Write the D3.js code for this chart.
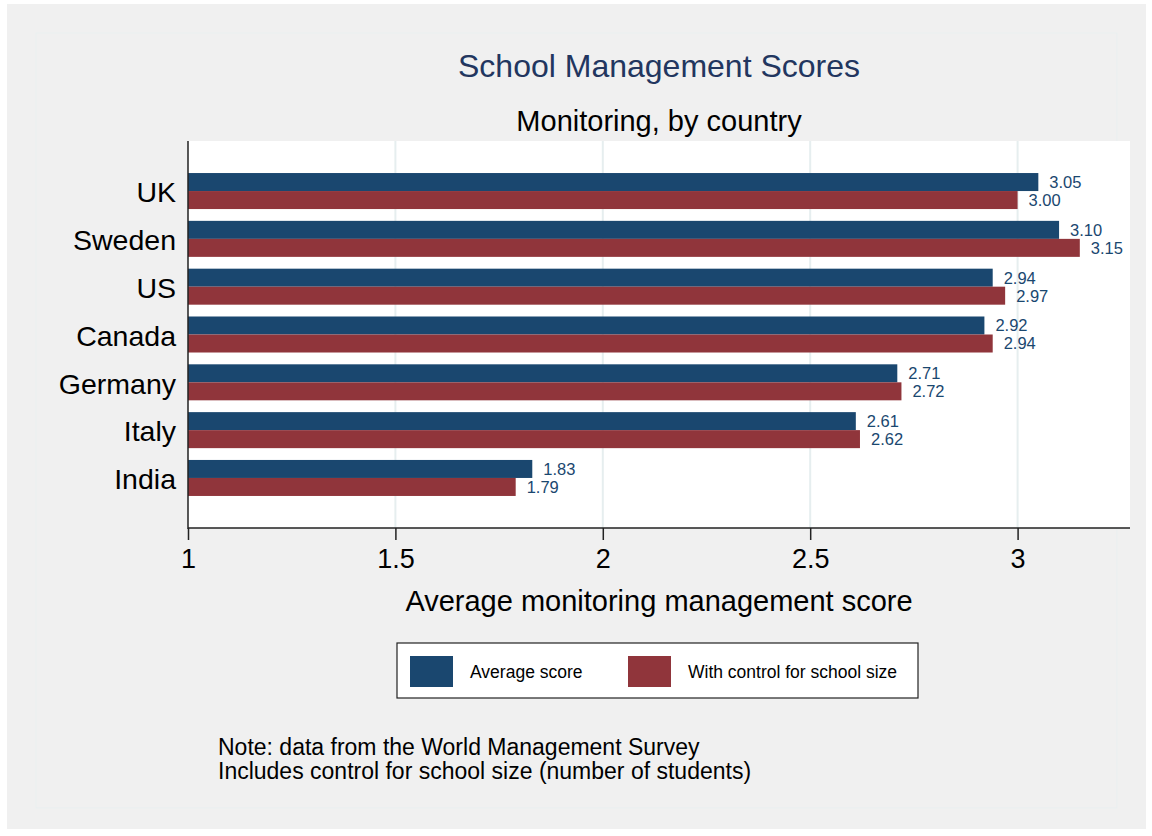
<!DOCTYPE html>
<html>
<head>
<meta charset="utf-8">
<script src="https://cdn.jsdelivr.net/npm/d3@7"></script>
<style>
  body { margin: 0; background: #fff; }
  svg { display: block; font-family: "Liberation Sans", Arial, Helvetica, sans-serif; }
</style>
</head>
<body>
<svg width="1152" height="836"></svg>
<script>
// Data
const countries = ["UK", "Sweden", "US", "Canada", "Germany", "Italy", "India"];
const averageScore = [3.05, 3.10, 2.94, 2.92, 2.71, 2.61, 1.83];
const controlScore = [3.00, 3.15, 2.97, 2.94, 2.72, 2.62, 1.79];
const seriesNames = ["Average score", "With control for school size"];
const xTicks = [1, 1.5, 2, 2.5, 3];

const navy = "#1a476f",
	maroon = "#90353b",
	titleCol = "#22365f",
	bg = "#f0f0f0",
	gridCol = "#e6eeef";

const svg = d3.select("svg");

// Graph region
svg.append("rect").attr("x", 7).attr("y", 4).attr("width", 1139).attr("height", 825).attr("fill", bg);
svg.append("rect").attr("x", 36).attr("y", 33).attr("width", 1081).attr("height", 775)
	.attr("fill", "none").attr("stroke", "#e9eff0").attr("stroke-width", 1);

const plot = { left: 188, right: 1130, top: 141, bottom: 528 };

const x = d3.scaleLinear().domain([1, 3.271]).range([plot.left, plot.right]);
const y = d3.scaleBand().domain(countries).range([plot.top, plot.bottom])
	.paddingInner(0.247).paddingOuter(0.67);
const sub = d3.scaleBand().domain([0, 1]).range([0, y.bandwidth()]);

// plot area
svg.append("rect").attr("x", plot.left).attr("y", plot.top)
	.attr("width", plot.right - plot.left).attr("height", plot.bottom - plot.top)
	.attr("fill", "#fff");

// gridlines
svg.append("g").selectAll("line").data(xTicks.slice(1)).join("line")
	.attr("x1", (d) => x(d)).attr("x2", (d) => x(d))
	.attr("y1", plot.top).attr("y2", plot.bottom)
	.attr("stroke", gridCol).attr("stroke-width", 2);

// bars
const rows = countries.map((c, i) => ({ c, vals: [averageScore[i], controlScore[i]] }));
const groups = svg.append("g").selectAll("g").data(rows).join("g")
	.attr("transform", (d) => `translate(0,${y(d.c)})`);

groups.selectAll("rect").data((d) => d.vals).join("rect")
	.attr("x", x(1))
	.attr("y", (d, i) => sub(i))
	.attr("width", (d) => x(d) - x(1))
	.attr("height", sub.bandwidth())
	.attr("fill", (d, i) => (i === 0 ? navy : maroon));

groups.selectAll("text").data((d) => d.vals).join("text")
	.attr("x", (d) => x(d) + 11)
	.attr("y", (d, i) => sub(i) + sub.bandwidth() / 2)
	.attr("dy", "0.36em")
	.attr("font-size", 16.5)
	.attr("fill", navy)
	.text((d) => d.toFixed(2));

// y axis
svg.append("line").attr("x1", plot.left).attr("x2", plot.left)
	.attr("y1", plot.top).attr("y2", plot.bottom + 1)
	.attr("stroke", "#222").attr("stroke-width", 1.5);
svg.append("g").selectAll("text").data(countries).join("text")
	.attr("x", 176)
	.attr("y", (d) => y(d) + y.bandwidth() / 2 + 1)
	.attr("dy", "0.36em")
	.attr("text-anchor", "end")
	.attr("font-size", 28.5)
	.attr("fill", "#000")
	.text((d) => d);

// x axis
const xAxis = d3.axisBottom(x).tickValues(xTicks).tickSize(12).tickPadding(0)
	.tickFormat(d3.format("~g"));
const gx = svg.append("g").attr("transform", `translate(0,${plot.bottom})`).call(xAxis);
gx.select(".domain").attr("stroke", "#222").attr("stroke-width", 1.5)
	.attr("d", `M${plot.left},0H${plot.right}`);
gx.selectAll(".tick line").attr("stroke", "#222").attr("stroke-width", 1.5);
gx.selectAll(".tick text").attr("font-size", 27).attr("fill", "#000")
	.attr("font-family", "Liberation Sans, Arial, sans-serif")
	.attr("dy", null).attr("y", 40);

svg.append("text").attr("x", (plot.left + plot.right) / 2).attr("y", 611)
	.attr("text-anchor", "middle").attr("font-size", 29).attr("fill", "#000")
	.text("Average monitoring management score");

// titles
svg.append("text").attr("x", (plot.left + plot.right) / 2).attr("y", 77)
	.attr("text-anchor", "middle").attr("font-size", 32).attr("fill", titleCol)
	.text("School Management Scores");
svg.append("text").attr("x", (plot.left + plot.right) / 2).attr("y", 131)
	.attr("text-anchor", "middle").attr("font-size", 29).attr("fill", "#000")
	.text("Monitoring, by country");

// legend
const legend = svg.append("g");
legend.append("rect").attr("x", 397).attr("y", 643).attr("width", 521).attr("height", 55)
	.attr("fill", "#fff").attr("stroke", "#222").attr("stroke-width", 1.2);
const legendX = [410, 628];
seriesNames.forEach((name, i) => {
	legend.append("rect").attr("x", legendX[i]).attr("y", 656).attr("width", 43).attr("height", 31)
		.attr("fill", i === 0 ? navy : maroon);
	legend.append("text").attr("x", legendX[i] + 60).attr("y", 672).attr("dy", "0.36em")
		.attr("font-size", 17.5).attr("fill", "#000").text(name);
});

// note
const note = svg.append("text").attr("x", 218).attr("font-size", 23).attr("fill", "#000");
note.append("tspan").attr("x", 218).attr("y", 755).text("Note: data from the World Management Survey");
note.append("tspan").attr("x", 218).attr("y", 779).text("Includes control for school size (number of students)");
</script>
</body>
</html>
